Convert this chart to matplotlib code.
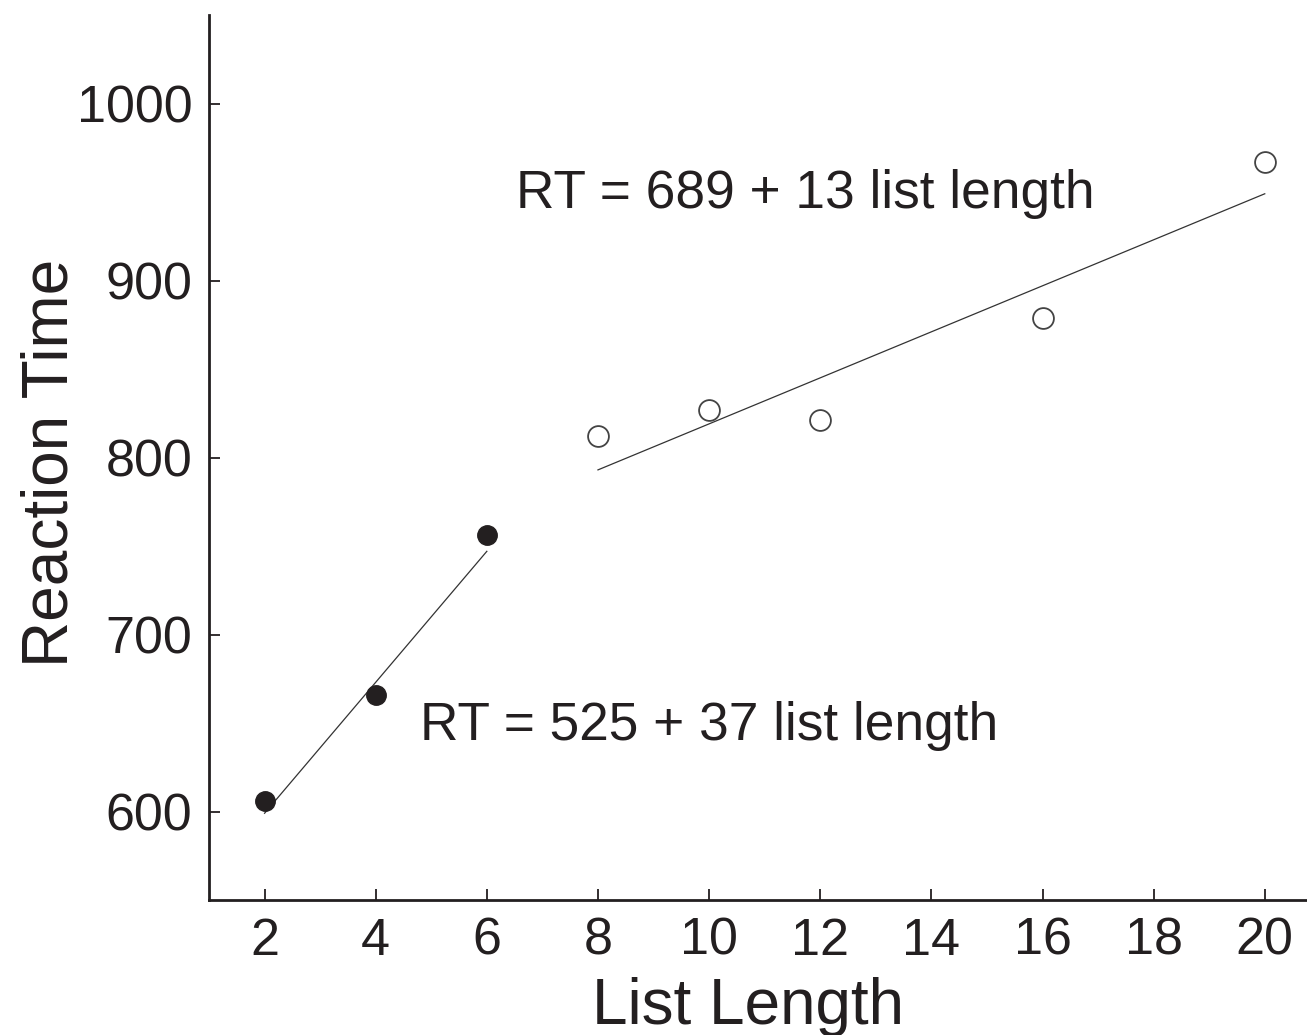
import matplotlib
matplotlib.use("Agg")
import matplotlib.pyplot as plt
import numpy as np

plt.rcParams['font.family'] = ['Liberation Sans', 'DejaVu Sans']

# Data
short_len = [2, 4, 6]
short_rt = [606, 666, 756]
long_len = [8, 10, 12, 16, 20]
long_rt = [812, 827, 821, 879, 967]
short_fit = (525, 37)
long_fit = (689, 13)
xticks = [2, 4, 6, 8, 10, 12, 14, 16, 18, 20]
yticks = [600, 700, 800, 900, 1000]

fig = plt.figure(figsize=(13.07, 10.35), dpi=100)
ax = fig.add_axes([209/1307, 135/1035, 1 - 209/1307, (900-15)/1035])

xs = np.array([short_len[0], short_len[-1]])
ax.plot(xs, short_fit[0] + short_fit[1]*xs, color='#333333', lw=0.9, zorder=2)
xl = np.array([long_len[0], long_len[-1]])
ax.plot(xl, long_fit[0] + long_fit[1]*xl, color='#333333', lw=0.9, zorder=2)

ax.plot(short_len, short_rt, 'o', ms=14, color='#231f20', mec='#231f20', zorder=3)
ax.plot(long_len, long_rt, 'o', ms=15, mfc='white', mec='#444444', mew=1.3, zorder=3)

ax.text(6.53, 940.8, f"RT = {long_fit[0]} + {long_fit[1]} list length",
        fontsize=38.3, va='baseline', ha='left', color='#231f20')
ax.text(4.79, 640.6, f"RT = {short_fit[0]} + {short_fit[1]} list length",
        fontsize=38.3, va='baseline', ha='left', color='#231f20')

ax.set_xlim(1, 20.76)
ax.set_ylim(550, 1050)
ax.set_xticks(xticks)
ax.set_yticks(yticks)
ax.tick_params(direction='in', length=8, width=1.3, labelsize=37.5,
               colors='#231f20', pad=12)
for s in ['top', 'right']:
    ax.spines[s].set_visible(False)
for s in ['left', 'bottom']:
    ax.spines[s].set_linewidth(2)
    ax.spines[s].set_color('#231f20')

ax.set_xlabel("List Length", fontsize=46, color='#231f20', labelpad=8)
ax.xaxis.label.set_x(0.4905)
ax.set_ylabel("Reaction Time", fontsize=46, color='#231f20', labelpad=-3)
ax.yaxis.label.set_y(0.494)

fig.savefig("out.png", dpi=100)
